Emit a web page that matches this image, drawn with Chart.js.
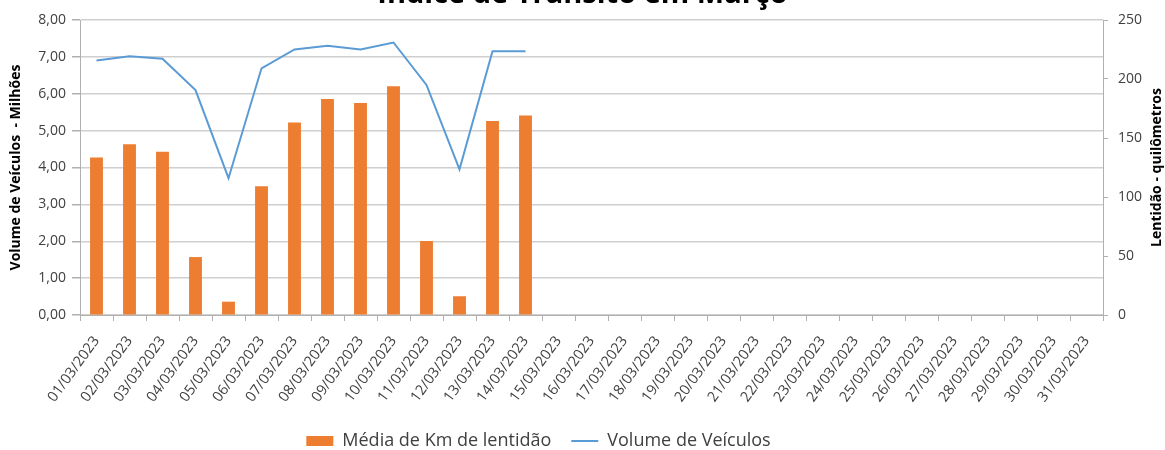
<!DOCTYPE html>
<html>
<head>
<meta charset="utf-8">
<script src="https://cdn.jsdelivr.net/npm/chart.js@4.4.1/dist/chart.umd.min.js"></script>
<style>
  html, body { margin: 0; padding: 0; background: #ffffff; }
  #wrap { position: relative; width: 1165px; height: 450px; overflow: hidden; }
  canvas { display: block; }
</style>
</head>
<body>
<div id="wrap"><canvas id="c" width="1165" height="450"></canvas></div>
<script>
const chartTitle = 'Índice de Trânsito em Março';
const leftAxisTitle = 'Volume de Veículos  - Milhões';
const rightAxisTitle = 'Lentidão - quilômetros';
const barLabel = 'Média de Km de lentidão';
const lineLabel = 'Volume de Veículos';

const categories = [
  '01/03/2023','02/03/2023','03/03/2023','04/03/2023','05/03/2023','06/03/2023','07/03/2023','08/03/2023',
  '09/03/2023','10/03/2023','11/03/2023','12/03/2023','13/03/2023','14/03/2023','15/03/2023','16/03/2023',
  '17/03/2023','18/03/2023','19/03/2023','20/03/2023','21/03/2023','22/03/2023','23/03/2023','24/03/2023',
  '25/03/2023','26/03/2023','27/03/2023','28/03/2023','29/03/2023','30/03/2023','31/03/2023'
];

// Média de Km de lentidão (right axis, km)
const lentidaoKm = [
  133.4, 144.7, 138.4, 49.1, 11.3, 109.1, 163.1, 183.1, 179.7, 193.8, 62.8, 15.9, 164.4, 169.1,
  null, null, null, null, null, null, null, null, null, null, null, null, null, null, null, null, null
];

// Volume de Veículos (left axis, milhões)
const volumeMilhoes = [
  6.90, 7.02, 6.95, 6.10, 3.71, 6.69, 7.20, 7.30, 7.20, 7.39, 6.24, 3.95, 7.15, 7.15,
  null, null, null, null, null, null, null, null, null, null, null, null, null, null, null, null, null
];

const leftTicks = [0, 1, 2, 3, 4, 5, 6, 7, 8];
const rightTicks = [0, 50, 100, 150, 200, 250];

const FONT = '"Open Sans", "Noto Sans", sans-serif';
const TICK_COLOR = '#404040';
const GRID_COLOR = '#cfcfcf';
const AXIS_COLOR = '#b0b0b0';

const overlayText = {
  id: 'overlayText',
  afterLayout(chart) {
    // legend sits a little left of the canvas centre in the original
    if (chart.legend) {
      chart.legend.left -= 44;
      chart.legend.right -= 44;
    }
  },
  afterDraw(chart) {
    const ctx = chart.ctx;
    const ca = chart.chartArea;
    ctx.save();
    ctx.fillStyle = '#000000';
    ctx.textAlign = 'center';
    ctx.textBaseline = 'alphabetic';
    ctx.font = 'bold 29px ' + FONT;
    ctx.fillText(chartTitle, chart.width / 2, 3);
    ctx.translate(chart.width - 8, (ca.top + ca.bottom) / 2);
    ctx.rotate(-Math.PI / 2);
    ctx.textBaseline = 'middle';
    ctx.font = 'bold 14px ' + FONT;
    ctx.fillText(rightAxisTitle, 0, 0);
    ctx.restore();
  }
};

new Chart(document.getElementById('c'), {
  data: {
    labels: categories,
    datasets: [
      {
        type: 'bar',
        label: barLabel,
        data: lentidaoKm,
        yAxisID: 'y1',
        backgroundColor: '#ED7D31',
        borderWidth: 0,
        barPercentage: 0.39,
        categoryPercentage: 1.0
      },
      {
        type: 'line',
        label: lineLabel,
        data: volumeMilhoes,
        yAxisID: 'y',
        borderColor: '#5B9BD5',
        backgroundColor: '#5B9BD5',
        borderWidth: 2,
        pointRadius: 0,
        tension: 0,
        spanGaps: false
      }
    ]
  },
  options: {
    responsive: false,
    animation: false,
    devicePixelRatio: 1,
    layout: { padding: { top: 20, left: 0, right: 0, bottom: -10 } },
    plugins: {
      title: { display: false },
      tooltip: { enabled: false },
      legend: {
        display: true,
        position: 'bottom',
        labels: {
          font: { family: FONT, size: 18 },
          color: '#404040',
          usePointStyle: true,
          pointStyleWidth: 27,
          boxHeight: 10,
          padding: 20,
          generateLabels(chart) {
            return chart.data.datasets.map((ds, i) => ({
              text: ds.label,
              datasetIndex: i,
              fillStyle: ds.type === 'bar' ? ds.backgroundColor : 'rgba(0,0,0,0)',
              strokeStyle: ds.type === 'bar' ? ds.backgroundColor : ds.borderColor,
              lineWidth: ds.type === 'bar' ? 0 : 2,
              pointStyle: ds.type === 'bar' ? 'rect' : 'line',
              hidden: false,
              fontColor: '#404040'
            }));
          }
        }
      }
    },
    scales: {
      x: {
        type: 'category',
        offset: true,
        grid: {
          offset: true,
          drawOnChartArea: false,
          drawTicks: true,
          tickLength: 6,
          color: AXIS_COLOR
        },
        border: { display: true, color: AXIS_COLOR, width: 1 },
        ticks: {
          autoSkip: false,
          minRotation: 54,
          maxRotation: 54,
          padding: 12,
          color: TICK_COLOR,
          font: { family: FONT, size: 14.5 }
        },
        afterFit(scale) { scale.height = 97; }
      },
      y: {
        type: 'linear',
        position: 'left',
        min: 0,
        max: 8,
        afterBuildTicks(scale) { scale.ticks = leftTicks.map(v => ({ value: v })); },
        grid: {
          color: GRID_COLOR,
          lineWidth: 1.5,
          drawTicks: true,
          tickLength: 8,
          tickColor: AXIS_COLOR
        },
        border: { display: true, color: AXIS_COLOR, width: 1 },
        ticks: {
          padding: 6,
          color: TICK_COLOR,
          font: { family: FONT, size: 14 },
          callback: (v) => Number(v).toFixed(2).replace('.', ',')
        },
        title: {
          display: true,
          text: leftAxisTitle,
          color: '#000000',
          font: { family: FONT, size: 14, weight: 'bold' },
          padding: { top: 8, bottom: 0 }
        },
        afterFit(scale) { scale.width = 80; }
      },
      y1: {
        type: 'linear',
        position: 'right',
        min: 0,
        max: 250,
        afterBuildTicks(scale) { scale.ticks = rightTicks.map(v => ({ value: v })); },
        grid: {
          drawOnChartArea: false,
          drawTicks: true,
          tickLength: 5,
          color: AXIS_COLOR
        },
        border: { display: true, color: AXIS_COLOR, width: 1 },
        ticks: {
          padding: 10,
          color: TICK_COLOR,
          font: { family: FONT, size: 14 },
          callback: (v) => String(v)
        },
        afterFit(scale) { scale.width = 62; }
      }
    }
  },
  plugins: [overlayText]
});
</script>
</body>
</html>
